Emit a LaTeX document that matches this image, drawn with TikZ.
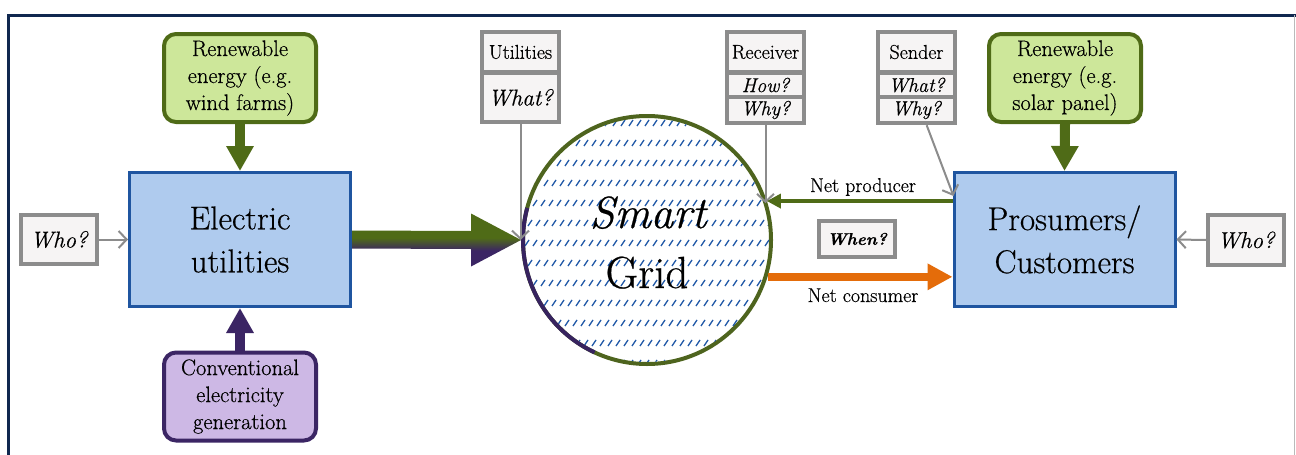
\documentclass[tikz,border=0pt]{standalone}
\usepackage{fontspec}
\setmainfont{Latin Modern Roman}[FakeBold=0.5]
\usetikzlibrary{arrows.meta,calc}
\definecolor{navyframe}{RGB}{16,40,79}
\definecolor{boxfill}{RGB}{175,203,238}
\definecolor{boxborder}{RGB}{31,85,160}
\definecolor{gfill}{RGB}{205,231,154}
\definecolor{gborder}{RGB}{79,107,23}
\definecolor{pfill}{RGB}{205,184,229}
\definecolor{pborder}{RGB}{59,37,100}
\definecolor{qgrey}{RGB}{140,140,140}
\definecolor{qfill}{RGB}{246,244,244}
\definecolor{orangearr}{RGB}{228,108,10}
\definecolor{pattblue}{RGB}{35,90,168}
\definecolor{sgreen}{RGB}{78,100,30}
\definecolor{spurple}{RGB}{55,35,95}
\pgfdeclareverticalshading{arrgp}{100bp}{color(0bp)=(pborder); color(40bp)=(pborder); color(52bp)=(gborder); color(100bp)=(gborder)}
\begin{document}
\begin{tikzpicture}[x=1pt,y=-1pt,
  mainbox/.style={draw=boxborder, fill=boxfill, line width=3pt, minimum width=221pt, minimum height=134pt, inner sep=0pt, align=center, font=\fontsize{33}{43}\selectfont},
  srcbox/.style={line width=4pt, rounded corners=12pt, minimum width=152pt, minimum height=88pt, inner sep=0pt, align=center, font=\fontsize{22.5}{27}\selectfont},
  greenbox/.style={srcbox, draw=gborder, fill=gfill},
  purplebox/.style={srcbox, draw=pborder, fill=pfill},
  qbox/.style={draw=qgrey, fill=qfill, line width=4pt, inner sep=0pt, minimum width=76pt},
  qframe/.style={fill=qgrey, inner sep=0pt, minimum width=81pt},
  qcell/.style={fill=qfill, inner sep=0pt, minimum width=73pt},
  qarrow/.style={draw=qgrey, line width=2pt, -{Straight Barb[length=8pt,width=17pt,line width=2pt]}},
  garrow/.style={draw=gborder, line width=10pt, -{Triangle[length=25pt,width=26pt]}},
  parrow/.style={draw=pborder, line width=10pt, -{Triangle[length=25pt,width=26pt]}},
  prodarrow/.style={draw=gborder, line width=3.5pt, -{Triangle[length=14pt,width=14pt]}},
  consarrow/.style={draw=orangearr, line width=8pt, -{Triangle[length=25pt,width=25pt]}},
  patt/.style={draw=pattblue, line width=1.3pt},
  smallfont/.style={font=\fontsize{20}{23}\selectfont},
  smallit/.style={font=\fontsize{20}{23}\selectfont\itshape},
  medit/.style={font=\fontsize{23}{26}\selectfont\itshape},
  bigfont/.style={font=\fontsize{45}{55}\selectfont}
]
\useasboundingbox (0,0) rectangle (1296,455);
\fill[white] (0,0) rectangle (1296,455);
% frame
\draw[navyframe, line width=3pt] (8.5,456) -- (8.5,15) -- (1296,15);
\draw[qgrey!60, line width=1pt] (1294.5,15) -- (1294.5,455);

% main boxes
\node[mainbox] (eu) at (240,239.5) {Electric\\utilities};
\node[mainbox] (pc) at (1064.5,239.5) {Prosumers/\\Customers};

% source boxes
\node[greenbox] (rw) at (240,78) {Renewable\\energy (e.g.\\wind farms)};
\node[greenbox] (rs) at (1065,78) {Renewable\\energy (e.g.\\solar panel)};
\node[purplebox] (cg) at (240,396.5) {Conventional\\electricity\\generation};

\draw[garrow] (rw.south) -- (eu.north);
\draw[garrow] (rs.south) -- (pc.north);
\draw[parrow] (cg.north) -- (eu.south);

% who boxes
\node[qbox, minimum height=49pt, medit] (whoL) at (59,239.5) {Who?};
\node[qbox, minimum height=50pt, medit] (whoR) at (1246,240) {Who?};
\draw[qarrow] (whoL.east) -- (eu.west);
\draw[qarrow] (whoR.west) -- (pc.east);

% smart grid circle
\node[circle, draw=sgreen, line width=4pt, fill=white, minimum size=248pt, inner sep=0pt] (sg) at (647,240) {};
\begin{scope}
  \clip (sg.center) circle[radius=122];
  \foreach \r in {0,...,12} {
    \foreach \c in {0,...,33} {
      \draw[patt] ({517+\c*8+mod(\r,2)*3},{123+\r*20+3}) -- ++(4,-6);
    }
  }
\end{scope}
\draw[spurple, line width=4pt] (sg.center) ++(-165:124) arc[start angle=-165, end angle=-245, radius=124];

% big shaded arrow
\shade[shading=arrgp] ($(eu.east)+(0,-9)$) -- ($(sg.west)+(-50,-9)$) -- ($(sg.west)+(-50,-26.5)$) -- (sg.west) -- ($(sg.west)+(-50,26.5)$) -- ($(sg.west)+(-50,9)$) -- ($(eu.east)+(0,9)$) -- cycle;

\node[bigfont, anchor=base, inner sep=0pt] (smart) at (648,228) {\itshape Smart};
\node[bigfont, anchor=base, inner sep=0pt] (grid) at (647,288) {Grid};

% question boxes
\node[qframe, minimum height=94pt] (ut) at (520.5,77) {};
\node[qcell, minimum height=36pt, smallfont] (ut1) at (520.5,52) {Utilities};
\node[qcell, minimum height=45pt, medit] (ut2) at (520.5,97.5) {What?};

\node[qframe, minimum height=95pt] (rc) at (765.5,77.5) {};
\node[qcell, minimum height=36pt, smallfont] (rc1) at (765.5,52) {Receiver};
\node[qcell, minimum height=20pt, smallit] (rc2) at (765.5,85) {How?};
\node[qcell, minimum height=22pt, smallit] (rc3) at (765.5,110) {Why?};

\node[qframe, minimum height=95pt] (sd) at (916.5,77.5) {};
\node[qcell, minimum height=36pt, smallfont] (sd1) at (916.5,52) {Sender};
\node[qcell, minimum height=20pt, smallit] (sd2) at (916.5,85) {What?};
\node[qcell, minimum height=22pt, smallit] (sd3) at (916.5,110) {Why?};

\draw[qarrow] (ut.south) -- (ut.south |- sg.west);
\draw[qarrow] (rc.south) -- (rc.south |- sg.17);
\draw[qarrow] ($(sd.south)!0.25!(sd.south east)$) -- ($(pc.north west)+(1,25)$);

% flows
\draw[prodarrow] (pc.west |- sg.18) -- (sg.18);
\draw[consarrow] (sg.-17) -- (pc.west |- sg.-17);
\node[smallfont, anchor=base, inner sep=0pt] (nplab) at (863,192) {Net producer};
\node[smallfont, anchor=base, inner sep=0pt] (nclab) at (863,302) {Net consumer};
\node[qbox, minimum height=36pt, font=\fontsize{17}{20}\selectfont\bfseries\itshape] (when) at (857,239) {When?};
\end{tikzpicture}
\end{document}
